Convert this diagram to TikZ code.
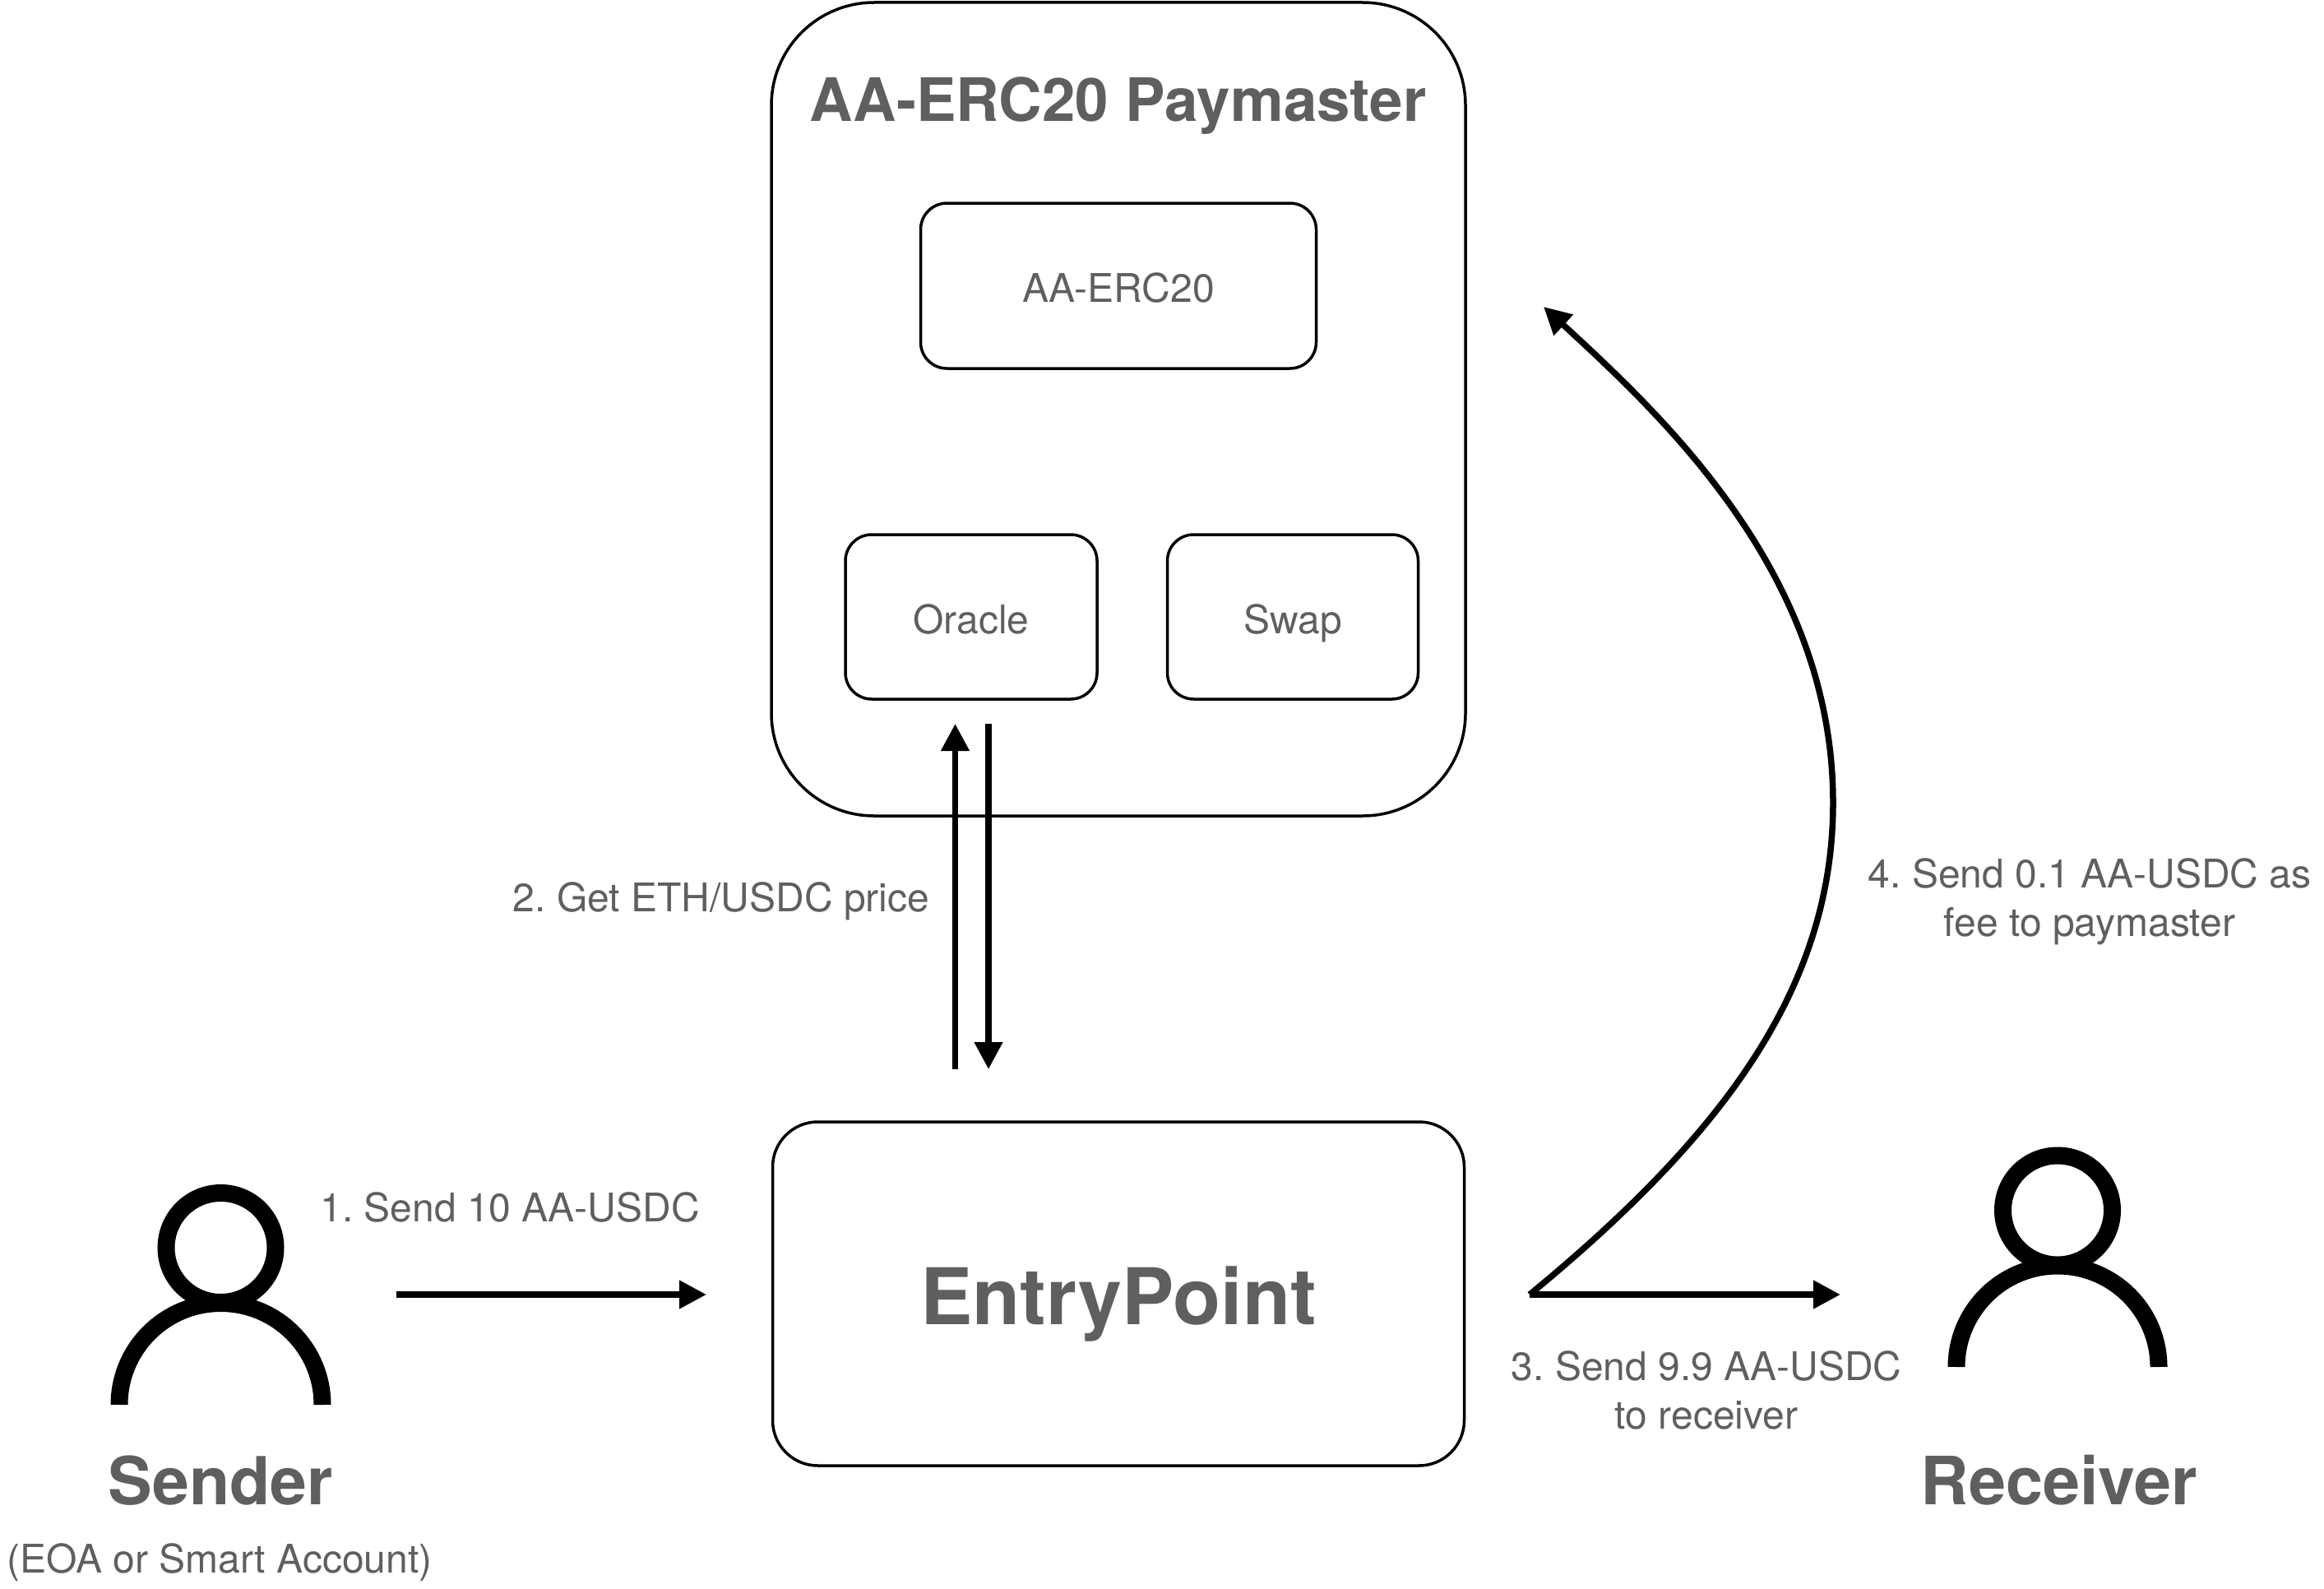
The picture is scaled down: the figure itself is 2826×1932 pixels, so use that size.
\documentclass[tikz,border=0pt]{standalone}
\usepackage{fontspec}
\setmainfont{TeX Gyre Heros}
\usetikzlibrary{arrows.meta}
\definecolor{labelgray}{HTML}{5F5F5F}
\frenchspacing
\tikzset{
 box/.style={draw=black,line width=3.5pt,rectangle,rounded corners=#1,inner sep=0pt},
 box/.default=32pt,
 label/.style={text=labelgray,inner sep=0pt,align=center,font=\fontsize{48}{59}\selectfont},
 boxlabel/.style={label,text height=40pt,text depth=0pt},
 title/.style={text=labelgray,inner sep=0pt,font=\fontsize{80.5}{90}\selectfont\bfseries},
 flow/.style={line width=7.5pt,-{Triangle[length=33pt,width=33pt]}},
 head/.style={draw=black,line width=21pt,circle,minimum size=133pt,inner sep=0pt},
 body/.style={line width=21pt}
}
\begin{document}
\begin{tikzpicture}[x=1pt,y=-1pt]
\useasboundingbox (0,0) rectangle (2826,1932);
%paymaster
\node[box=125pt,minimum width=844pt,minimum height=989pt] (paymaster) at (1360,497.5) {};
\node[title,font=\fontsize{72.7}{80}\selectfont\bfseries,anchor=base] (paymastertitle) at (1359.5,147) {AA-ERC20 Paymaster};
\node[box,boxlabel,minimum width=481pt,minimum height=201pt] (erc) at (1360,347.5) {AA-ERC20};
\node[box,boxlabel,minimum width=306pt,minimum height=200pt] (oracle) at (1181,750) {Oracle};
\node[box,boxlabel,minimum width=305pt,minimum height=200pt] (swap) at (1572,750) {Swap};
%entrypoint
\node[box=55pt,minimum width=841pt,minimum height=418pt] (entry) at (1360,1573) {};
\node[title,font=\fontsize{95}{100}\selectfont\bfseries,anchor=base] (entrytitle) at (1360,1610) {EntryPoint};
%sender
\node[head] (senderhead) at (268.5,1517) {};
\coordinate (senderbase) at (145,1708);
\draw[body] (senderbase) arc (180:360:123.5);
\node[title,anchor=base] (sendername) at (268,1829) {Sender};
\node[label,anchor=base] (sendertype) at (267,1912) {(EOA or Smart Account)};
%receiver
\node[head] (receiverhead) at (2502,1471.5) {};
\coordinate (receiverbase) at (2379,1662);
\draw[body] (receiverbase) arc (180:360:123);
\node[title,font=\fontsize{81}{90}\selectfont\bfseries,anchor=base] (receivername) at (2504,1829) {Receiver};
%step 1
\coordinate (sendstart) at (482,1574);
\coordinate (sendend) at (859,1574);
\draw[flow] (sendstart) -- (sendend);
\node[label,anchor=base] (sendlabel) at (620,1485.5) {1. Send 10 AA-USDC};
%step 2
\coordinate (pricelow) at (1161.5,1300);
\coordinate (pricetop) at (1161.5,880);
\coordinate (replytop) at (1202,880);
\coordinate (replylow) at (1202,1300);
\draw[flow] (pricelow) -- (pricetop);
\draw[flow] (replytop) -- (replylow);
\node[label,anchor=base] (pricelabel) at (877,1108) {2. Get ETH/USDC price};
%step 3
\coordinate (payout) at (1860,1574);
\coordinate (payend) at (2238,1574);
\draw[flow] (payout) -- (payend);
\node[label] (paylabel) at (2075,1690) {3. Send 9.9 AA-USDC\\to receiver};
%step 4
\coordinate (feebend) at (2229,976);
\coordinate (feeend) at (1877,373);
\draw[flow] (payout) .. controls (2096,1380) and (2229,1200) .. (feebend) .. controls (2229,700) and (2026,510) .. (feeend);
\node[label] (feelabel) at (2541,1096) {4. Send 0.1 AA-USDC as\\fee to paymaster};
\end{tikzpicture}
\end{document}
